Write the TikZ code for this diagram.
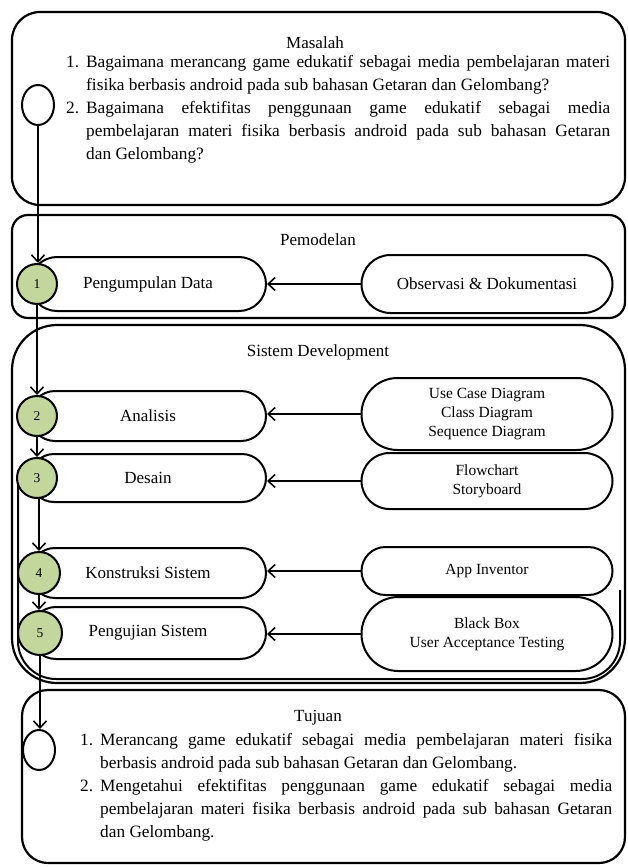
\documentclass[tikz,border=0pt]{standalone}
\usepackage{fontspec}
\setmainfont{Liberation Serif}
\usetikzlibrary{arrows.meta,shapes.geometric,shapes.misc}
\definecolor{numgreen}{HTML}{C3D69B}
\newcommand{\myitem}[3]{\hangindent=#1\hangafter=1\noindent\makebox[#1][l]{#2}#3\par}
\begin{document}
\begin{tikzpicture}[x=1pt,y=-1pt,
  frame/.style={draw, line width=2.2pt, rounded corners=#1},
  pill/.style={draw, line width=2pt, rounded rectangle, fill=white, inner sep=0pt,
    font=\fontsize{17}{20}\selectfont, align=center},
  pillsmall/.style={pill, font=\fontsize{15.5}{19}\selectfont},
  numc/.style={draw, line width=2pt, circle, fill=numgreen, inner sep=0pt,
    font=\fontsize{13.5}{15}\selectfont},
  endc/.style={draw, line width=2pt, ellipse, fill=white, minimum width=32pt, minimum height=40pt, inner sep=0pt},
  conn/.style={line width=1.6pt, -{Straight Barb[length=7pt,width=13pt,line width=1.6pt]}},
  heading/.style={font=\fontsize{17}{20}\selectfont, inner sep=0pt},
  body/.style={font=\fontsize{17.3}{23}\selectfont, inner sep=0pt, anchor=base west}
]
\useasboundingbox (0,0) rectangle (627,867);

% outer frames
\draw[frame=28] (12,12) rectangle (625,205);
\draw[frame=16] (12,215) rectangle (625,318);
\draw[frame=45] (12,325) rectangle (625,683);
\draw[line width=2pt, rounded corners=38] (18,470) -- (18,679) -- (620,679) -- (620,590);
\draw[frame=26] (22,690) rectangle (625,863);

% headings
\node[heading] (hmas) at (315,43) {Masalah};
\node[heading] (hpem) at (318,240) {Pemodelan};
\node[heading] (hsis) at (318,352) {Sistem Development};
\node[heading] (htuj) at (318,718) {Tujuan};

% Masalah text
\node[body] (tmas) at (66,67) {\parbox[t]{544pt}{\hyphenpenalty=10000\exhyphenpenalty=10000%
\myitem{20pt}{1.}{Bagaimana merancang game edukatif sebagai media pembelajaran materi\linebreak fisika berbasis android pada sub bahasan Getaran dan Gelombang?}%
\myitem{20pt}{2.}{Bagaimana efektifitas penggunaan game edukatif sebagai media\linebreak pembelajaran materi fisika berbasis android pada sub bahasan Getaran\linebreak dan Gelombang?}}};

% Tujuan text
\node[body] (ttuj) at (80,745) {\parbox[t]{532pt}{\hyphenpenalty=10000\exhyphenpenalty=10000%
\myitem{20pt}{1.}{Merancang game edukatif sebagai media pembelajaran materi fisika\linebreak berbasis android pada sub bahasan Getaran dan Gelombang.}%
\myitem{20pt}{2.}{Mengetahui efektifitas penggunaan game edukatif sebagai media\linebreak pembelajaran materi fisika berbasis android pada sub bahasan Getaran\linebreak dan Gelombang.}}};

% left pills
\node[pill, minimum width=236pt, minimum height=54pt] (p1) at (148,284) {Pengumpulan Data};
\node[pill, minimum width=236pt, minimum height=50pt] (p2) at (148,416) {Analisis};
\node[pill, minimum width=236pt, minimum height=48pt] (p3) at (148,478) {Desain};
\node[pill, minimum width=236pt, minimum height=50pt] (p4) at (148,573) {Konstruksi Sistem};
\node[pill, minimum width=236pt, minimum height=52pt] (p5) at (148,633) {Pengujian Sistem};

% right pills
\node[pill, minimum width=251pt, minimum height=58pt] (r1) at (487,284) {Observasi \& Dokumentasi};
\node[pillsmall, minimum width=251pt, minimum height=72pt] (r2) at (487,414) {Use Case Diagram\\Class Diagram\\Sequence Diagram};
\node[pillsmall, minimum width=251pt, minimum height=56pt] (r3) at (487,481) {Flowchart\\Storyboard};
\node[pillsmall, minimum width=251pt, minimum height=48pt] (r4) at (487,571) {App Inventor};
\node[pillsmall, minimum width=251pt, minimum height=74pt] (r5) at (487,634) {Black Box\\User Acceptance Testing};

% numbered circles
\node[numc, minimum size=40pt] (c1) at (37,284) {1};
\node[numc, minimum size=40pt] (c2) at (37,416) {2};
\node[numc, minimum size=40pt] (c3) at (37,478) {3};
\node[numc, minimum size=42pt] (c4) at (39,573) {4};
\node[numc, minimum size=44pt] (c5) at (40,633) {5};

% start / end
\node[endc] (start) at (38,105) {};
\node[endc] (finish) at (39,750) {};

% connectors
\draw[conn] (r1.west) -- (p1.east);
\draw[conn] (r2.west) -- (p2.east |- r2.west);
\draw[conn] (r3.west) -- (p3.east |- r3.west);
\draw[conn] (r4.west) -- (p4.east |- r4.west);
\draw[conn] (r5.west) -- (p5.east |- r5.west);

\draw[conn] (start.south) -- (start.south |- c1.north);
\draw[conn] (c1.south) -- (c2.north);
\draw[conn] (c2.south) -- (c3.north);
\draw[conn] (c3.south -| c4.north) -- (c4.north);
\draw[conn] (c4.south) -- (c4.south |- c5.north);
\draw[conn] (c5.south) -- (c5.south |- finish.north);
\end{tikzpicture}
\end{document}
